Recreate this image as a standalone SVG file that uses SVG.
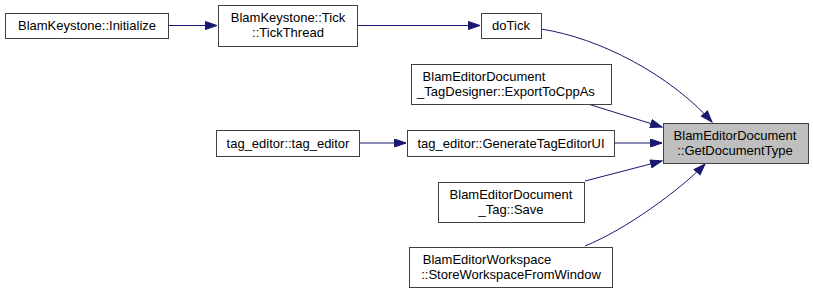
<svg xmlns="http://www.w3.org/2000/svg" width="813" height="293" viewBox="0 0 813 293">
<style>
.n rect{fill:#fff;stroke:#404040;stroke-width:1}
.n.t rect{fill:#bfbfbf}
.n text{font-family:"Liberation Sans",Arial,sans-serif;font-size:13px;fill:#000;text-anchor:middle}
.e path{fill:none;stroke:#191970;stroke-width:1;marker-end:url(#a)}
</style>
<defs>
<marker id="a" markerUnits="userSpaceOnUse" markerWidth="14" markerHeight="11" refX="12" refY="4.5" orient="auto">
<path d="M0.5,0.5 L12,4.5 L0.5,8.5 z" fill="#191970" stroke="#191970" stroke-width="1"/>
</marker>
</defs>
<rect width="813" height="293" fill="#fff"/>
<g id="edges" class="e">
<path d="M168,25.5 L217,25.5"/>
<path d="M357,25.5 L480,25.5"/>
<path d="M541,29 C600,38 670,75 712,122"/>
<path d="M588,104 L662,127"/>
<path d="M359,143 L406,143"/>
<path d="M614,143 L662,143"/>
<path d="M585,181 L662,161"/>
<path d="M585,246 C625,230 680,190 705,164"/>
</g>
<g id="n_init" class="n"><rect x="5.5" y="13.5" width="163" height="25"/><text x="87" y="30">BlamKeystone::Initialize</text></g>
<g id="n_tick" class="n"><rect x="218.5" y="5.5" width="139" height="41"/><text x="288" y="22">BlamKeystone::Tick</text><text x="288" y="37">::TickThread</text></g>
<g id="n_dotick" class="n"><rect x="481.5" y="13.5" width="60" height="25"/><text x="511" y="30">doTick</text></g>
<g id="n_export" class="n"><rect x="411.5" y="64.5" width="200" height="40"/><text x="484" y="81">BlamEditorDocument</text><text x="506" y="96">_TagDesigner::ExportToCppAs</text></g>
<g id="n_target" class="n t"><rect x="663.5" y="123.5" width="145" height="40"/><text x="735" y="140">BlamEditorDocument</text><text x="735" y="155">::GetDocumentType</text></g>
<g id="n_tagctor" class="n"><rect x="216.5" y="130.5" width="143" height="26"/><text x="288" y="148">tag_editor::tag_editor</text></g>
<g id="n_gen" class="n"><rect x="407.5" y="130.5" width="207" height="26"/><text x="511" y="148">tag_editor::GenerateTagEditorUI</text></g>
<g id="n_save" class="n"><rect x="438.5" y="182.5" width="146" height="40"/><text x="511" y="199">BlamEditorDocument</text><text x="511" y="214">_Tag::Save</text></g>
<g id="n_store" class="n"><rect x="409.5" y="247.5" width="203" height="40"/><text x="487" y="264">BlamEditorWorkspace</text><text x="511" y="279">::StoreWorkspaceFromWindow</text></g>
</svg>
